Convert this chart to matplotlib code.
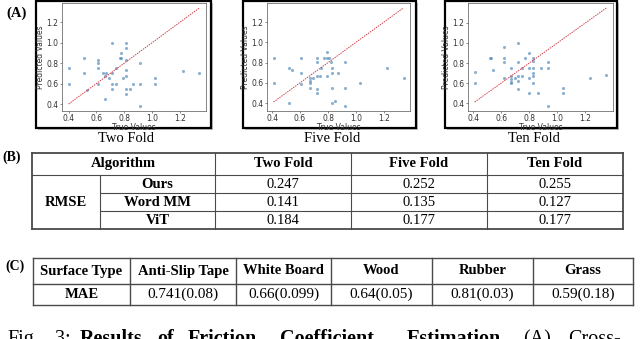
import matplotlib
matplotlib.use("Agg")
import matplotlib.pyplot as plt
from matplotlib.patches import Rectangle
from matplotlib.lines import Line2D

# ---- panel A: true vs predicted friction coefficient, per fold setting ----
fold_names = ["Two Fold", "Five Fold", "Ten Fold"]

true_two = [0.40, 0.40, 0.51, 0.51, 0.53, 0.61, 0.61, 0.61, 0.61, 0.65, 0.66, 0.66,
            0.67, 0.69, 0.71, 0.71, 0.71, 0.71, 0.74, 0.74, 0.77, 0.78, 0.78, 0.79,
            0.81, 0.81, 0.81, 0.81, 0.81, 0.81, 0.81, 0.84, 0.86, 0.91, 0.91, 0.91,
            1.02, 1.02, 1.22, 1.34]
pred_two = [0.75, 0.60, 0.85, 0.70, 0.54, 0.83, 0.80, 0.75, 0.60, 0.70, 0.67, 0.45,
            0.70, 0.65, 0.70, 1.00, 0.60, 0.55, 0.60, 0.75, 0.85, 0.85, 0.90, 0.65,
            1.00, 0.95, 0.83, 0.73, 0.67, 0.55, 0.50, 0.55, 0.60, 0.80, 0.60, 0.38,
            0.65, 0.60, 0.72, 0.70]

true_five = [0.41, 0.41, 0.52, 0.54, 0.52, 0.61, 0.61, 0.61, 0.67, 0.67, 0.67, 0.67,
             0.69, 0.72, 0.72, 0.72, 0.72, 0.72, 0.74, 0.75, 0.77, 0.79, 0.79, 0.79,
             0.81, 0.82, 0.83, 0.83, 0.83, 0.83, 0.85, 0.87, 0.92, 0.92, 0.92, 1.03,
             1.22, 1.34]
pred_five = [0.85, 0.60, 0.75, 0.73, 0.40, 0.85, 0.70, 0.59, 0.65, 0.62, 0.60, 0.55,
             0.65, 0.85, 0.81, 0.67, 0.54, 0.50, 0.67, 0.75, 0.85, 0.90, 0.85, 0.67,
             0.85, 0.81, 0.75, 0.70, 0.55, 0.40, 0.42, 0.70, 0.81, 0.55, 0.37, 0.60,
             0.75, 0.65]

true_ten = [0.41, 0.41, 0.52, 0.53, 0.54, 0.62, 0.62, 0.62, 0.62, 0.67, 0.67, 0.67,
            0.67, 0.67, 0.70, 0.72, 0.72, 0.72, 0.72, 0.72, 0.75, 0.75, 0.77, 0.80,
            0.80, 0.80, 0.80, 0.83, 0.83, 0.83, 0.83, 0.83, 0.83, 0.86, 0.88, 0.93,
            0.93, 0.93, 1.04, 1.04, 1.23, 1.35]
pred_ten = [0.71, 0.60, 0.85, 0.85, 0.73, 0.96, 0.85, 0.81, 0.65, 0.75, 0.67, 0.64,
            0.61, 0.60, 0.65, 1.00, 0.81, 0.67, 0.62, 0.54, 0.67, 0.75, 0.85, 0.90,
            0.75, 0.65, 0.50, 0.85, 0.82, 0.75, 0.70, 0.67, 0.60, 0.50, 0.75, 0.81,
            0.75, 0.37, 0.55, 0.50, 0.65, 0.68]

x_ticks = [0.4, 0.6, 0.8, 1.0, 1.2]
y_ticks = [0.4, 0.6, 0.8, 1.0, 1.2]

# ---- panel B: RMSE table ----
rmse_header = ["Algorithm", "Two Fold", "Five Fold", "Ten Fold"]
rmse_methods = ["Ours", "Word MM", "ViT"]
rmse_two = ["0.247", "0.141", "0.184"]
rmse_five = ["0.252", "0.135", "0.177"]
rmse_ten = ["0.255", "0.127", "0.177"]

# ---- panel C: MAE per surface ----
surfaces = ["Anti-Slip Tape", "White Board", "Wood", "Rubber", "Grass"]
mae_values = ["0.741(0.08)", "0.66(0.099)", "0.64(0.05)", "0.81(0.03)", "0.59(0.18)"]

# caption words (justified line, cut at the bottom edge); bold flag per word
caption_words = ["Fig.", "3:", "Results", "of", "Friction", "Coefficient",
                 "Estimation.", "(A)", "Cross-"]
caption_bold = [False, False, True, True, True, True, True, False, False]
caption_x = [7, 55, 80, 157, 188, 280, 407, 523, 568]

W, H = 640, 339
SERIF = ["Liberation Serif", "DejaVu Serif"]
LINE_C = "#4a4a4a"

fig = plt.figure(figsize=(W / 100, H / 100), dpi=100)


def fx(x):
    return x / W


def fy(y):
    return 1 - y / H


def hline(x0, x1, y, lw=0.8):
    fig.add_artist(Line2D([fx(x0), fx(x1)], [fy(y), fy(y)], color=LINE_C, lw=lw))


def vline(x, y0, y1, lw=0.8):
    fig.add_artist(Line2D([fx(x), fx(x)], [fy(y0), fy(y1)], color=LINE_C, lw=lw))


def label(x, y, s, size=10.5, bold=False):
    fig.text(fx(x), fy(y), s, ha="center", va="center", fontsize=size,
             family=SERIF, fontweight="bold" if bold else "normal")


# scatter panels: frame box (left, top, right, bottom) and axes box in pixels
frames = [(36, 1, 211, 128), (243, 1, 416, 128), (445, 1, 617, 128)]
axboxes = [(62, 3, 206, 111), (267, 3, 410, 111), (468, 3, 613, 111)]
series = [(true_two, pred_two), (true_five, pred_five), (true_ten, pred_ten)]

for (l, t, r, b), (al, at, ar, ab), (tv, pv), name in zip(frames, axboxes, series, fold_names):
    fig.add_artist(Rectangle((fx(l + 2), fy(b + 2)), fx(r - l), (b - t) / H,
                             facecolor="#9a9a9a", edgecolor="none", alpha=0.6, zorder=-3))
    fig.add_artist(Rectangle((fx(l), fy(b)), fx(r - l), (b - t) / H,
                             facecolor="white", edgecolor="black", lw=1.6, zorder=-2))
    ax = fig.add_axes([fx(al), fy(ab), fx(ar - al), (ab - at) / H])
    ax.scatter(tv, pv, s=5, color="#5b8fbd", alpha=0.7, linewidths=0)
    lo, hi = min(tv), max(tv)
    ax.plot([lo, hi], [lo, hi], "--", color="#d0404a", lw=0.7, dashes=(1.5, 1))
    ax.set_xticks(x_ticks)
    ax.set_yticks(y_ticks)
    ax.tick_params(labelsize=5.5, length=1.5, width=0.4, pad=1.0, colors="#333")
    for sp in ax.spines.values():
        sp.set_linewidth(0.5)
        sp.set_color("#555")
    ax.set_xlabel("True Values", fontsize=5.5, labelpad=0, color="#333")
    ax.set_ylabel("Predicted Values", fontsize=5.5, labelpad=1, color="#333")
    label((l + r) / 2 + 3, 139, name, size=10.5)

label(17, 13, "(A)", size=10.5, bold=True)

# ---- table B ----
cols_b = [32, 100, 215, 351, 487, 623]
rows_b = [153, 175, 193, 211, 229]
label(12, 157, "(B)", size=10, bold=True)
hline(cols_b[0], cols_b[-1], rows_b[0], lw=1.3)
hline(cols_b[0], cols_b[-1], rows_b[1])
hline(cols_b[1], cols_b[-1], rows_b[2])
hline(cols_b[1], cols_b[-1], rows_b[3])
hline(cols_b[0], cols_b[-1], rows_b[4], lw=1.3)
vline(cols_b[0], rows_b[0], rows_b[-1], lw=1.3)
vline(cols_b[-1], rows_b[0], rows_b[-1], lw=1.3)
vline(cols_b[1], rows_b[1], rows_b[-1])
for c in cols_b[2:-1]:
    vline(c, rows_b[0], rows_b[-1])

label((cols_b[0] + cols_b[2]) / 2, (rows_b[0] + rows_b[1]) / 2, rmse_header[0], bold=True)
for j, h in enumerate(rmse_header[1:]):
    label((cols_b[j + 2] + cols_b[j + 3]) / 2, (rows_b[0] + rows_b[1]) / 2, h, bold=True)
label((cols_b[0] + cols_b[1]) / 2, (rows_b[1] + rows_b[-1]) / 2, "RMSE", bold=True)
for i, m in enumerate(rmse_methods):
    yc = (rows_b[i + 1] + rows_b[i + 2]) / 2
    label((cols_b[1] + cols_b[2]) / 2, yc, m, bold=True)
    for j, vals in enumerate([rmse_two, rmse_five, rmse_ten]):
        label((cols_b[j + 2] + cols_b[j + 3]) / 2, yc, vals[i])

# ---- table C ----
cols_c = [33, 130, 236, 331, 432, 533, 633]
rows_c = [258, 284, 305]
label(15, 266, "(C)", size=10, bold=True)
for y in rows_c:
    hline(cols_c[0], cols_c[-1], y, lw=1.0)
for c in cols_c:
    vline(c, rows_c[0], rows_c[-1], lw=1.0)
label((cols_c[0] + cols_c[1]) / 2, (rows_c[0] + rows_c[1]) / 2, "Surface Type", size=10.5, bold=True)
label((cols_c[0] + cols_c[1]) / 2, (rows_c[1] + rows_c[2]) / 2, "MAE", size=10.5, bold=True)
for j, (s, v) in enumerate(zip(surfaces, mae_values)):
    xc = (cols_c[j + 1] + cols_c[j + 2]) / 2
    label(xc, (rows_c[0] + rows_c[1]) / 2, s, size=10.5, bold=True)
    label(xc, (rows_c[1] + rows_c[2]) / 2, v, size=11)

# ---- caption (cut off at the bottom edge) ----
for word, bold, x in zip(caption_words, caption_bold, caption_x):
    fig.text(fx(x), fy(344), word, fontsize=14.5, family=SERIF, va="baseline",
             fontweight="bold" if bold else "normal")

fig.savefig("out.png", dpi=100)
